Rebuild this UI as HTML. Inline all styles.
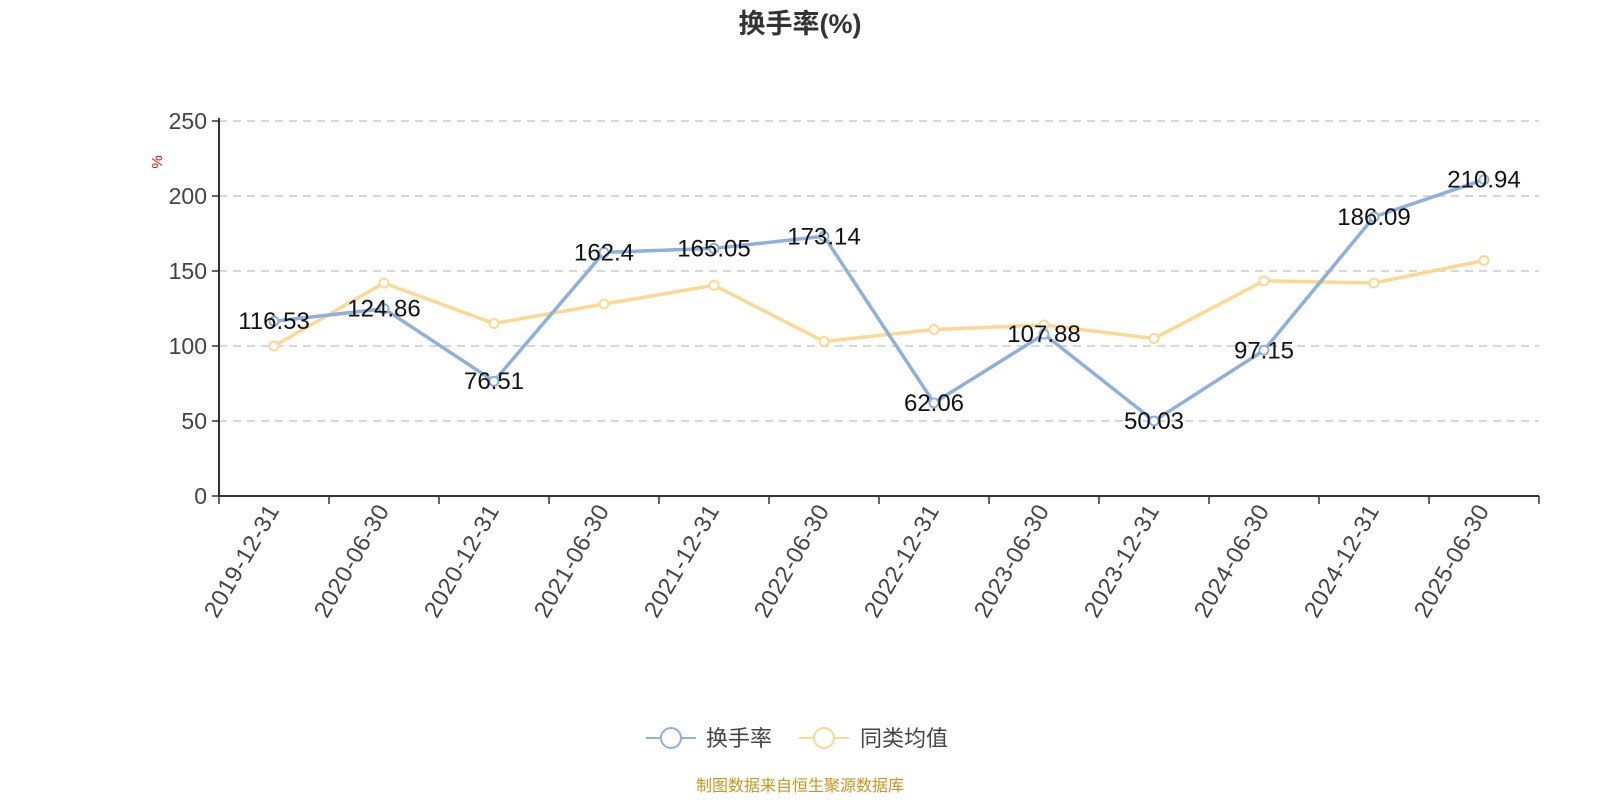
<!DOCTYPE html>
<html><head><meta charset="utf-8"><style>
body{margin:0;background:#fff;width:1600px;height:800px;overflow:hidden;font-family:"Liberation Sans","Noto Sans CJK SC",sans-serif;}
</style></head><body>
<svg id="chart" width="1600" height="800" xmlns="http://www.w3.org/2000/svg" font-family="Liberation Sans, Noto Sans CJK SC, sans-serif">
<text x="800" y="33" text-anchor="middle" font-size="27" font-weight="bold" fill="#333">换手率(%)</text>
<text transform="translate(162,162) rotate(-90)" text-anchor="middle" font-size="15" fill="red">%</text>
<g id="grid"></g><g id="axes"></g><g id="series"></g><g id="labels"></g>
<g>
<g>
<line x1="646" y1="738" x2="696" y2="738" stroke="#8eb0dc" stroke-width="2"/>
<circle cx="671" cy="738" r="10" fill="#fff" stroke="#8eb0dc" stroke-width="2"/>
<text x="706" y="746" font-size="22" fill="#444">换手率</text></g>
<g>
<line x1="799" y1="738" x2="849" y2="738" stroke="#fdd893" stroke-width="2"/>
<circle cx="824" cy="738" r="10" fill="#fff" stroke="#fdd893" stroke-width="2"/>
<text x="860" y="746" font-size="22" fill="#444">同类均值</text></g>
</g>
<text x="800" y="791" text-anchor="middle" font-size="16" fill="#c8961e">制图数据来自恒生聚源数据库</text>
</svg>
<script>
const categories=["2019-12-31","2020-06-30","2020-12-31","2021-06-30","2021-12-31","2022-06-30","2022-12-31","2023-06-30","2023-12-31","2024-06-30","2024-12-31","2025-06-30"];
const turnover=[116.53,124.86,76.51,162.4,165.05,173.14,62.06,107.88,50.03,97.15,186.09,210.94];
const peerAvg=[100,142,115,128,140.5,103,111,114,105,143.5,142,157];
const yTicks=[0,50,100,150,200,250];
const NS="http://www.w3.org/2000/svg";
const x0=219,x1=1539,y0=496,yTop=121,yMax=250;
const band=(x1-x0)/categories.length;
const X=i=>x0+band*(i+0.5);
const Y=v=>y0-(v/yMax)*(y0-yTop);
function mk(p,tag,at){const e=document.createElementNS(NS,tag);for(const k in at)e.setAttribute(k,at[k]);p.appendChild(e);return e;}
const grid=document.getElementById('grid'),axes=document.getElementById('axes'),series=document.getElementById('series'),labels=document.getElementById('labels');
yTicks.forEach(t=>{
 if(t>0){const g=mk(grid,'line',{x1:x0,x2:x1,y1:Y(t),y2:Y(t),stroke:'#ccc','stroke-dasharray':'8,6','stroke-width':1.5});
 
 }
 const tk=mk(axes,'line',{x1:x0-7,x2:x0,y1:Y(t),y2:Y(t),stroke:'#333','stroke-width':1.5});
 
 
 const tl=mk(axes,'text',{x:x0-12,y:Y(t)+8,'text-anchor':'end','font-size':23,fill:'#444'});
 tl.textContent=t;
 
 
});
const ya=mk(axes,'line',{x1:x0,x2:x0,y1:yTop-3,y2:y0,stroke:'#333','stroke-width':2});


const xa=mk(axes,'line',{x1:x0,x2:x1,y1:y0,y2:y0,stroke:'#333','stroke-width':2});


for(let i=0;i<=categories.length;i++){
 const tk=mk(axes,'line',{x1:x0+band*i,x2:x0+band*i,y1:y0,y2:y0+8,stroke:'#333','stroke-width':1.5});
 
 
}
categories.forEach((c,i)=>{
 const t=mk(axes,'text',{transform:`translate(${X(i)+6},${y0+14}) rotate(-60)`,'text-anchor':'end','font-size':23.5,fill:'#444','letter-spacing':'0.6'});
 t.textContent=c;
 
 
});
function drawSeries(vals,color,name){
 const pts=vals.map((v,i)=>X(i)+','+Y(v)).join(' ');
 const pl=mk(series,'polyline',{points:pts,fill:'none',stroke:color,'stroke-width':3.5,'stroke-linejoin':'round'});
 
 
 vals.forEach((v,i)=>{
  const c=mk(series,'circle',{cx:X(i),cy:Y(v),r:4.5,fill:'#fff',stroke:color,'stroke-width':2});
  
  
 });
}
drawSeries(peerAvg,'#fdd893','peer-average');
drawSeries(turnover,'#8eb0dc','turnover');
turnover.forEach((v,i)=>{
 const t=mk(labels,'text',{x:X(i),y:Y(v)+8,'text-anchor':'middle','font-size':24,fill:'#111'});
 t.textContent=v;
 
 
});
</script>
</body></html>
